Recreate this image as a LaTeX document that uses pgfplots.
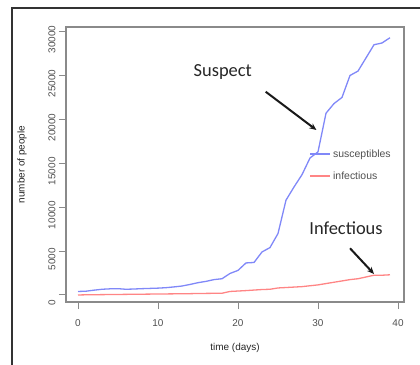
\documentclass[border=0pt]{standalone}
\usepackage{fontspec}
\setmainfont{Liberation Sans}
\newfontfamily\callig{Carlito}
\usepackage{pgfplots}
\pgfplotsset{compat=1.18}
\usetikzlibrary{arrows.meta}
\definecolor{sblue}{HTML}{8088F8}
\definecolor{ired}{HTML}{FF8585}
\definecolor{boxgray}{HTML}{8A8A8A}
\definecolor{txtgray}{HTML}{505050}
\begin{document}
\begin{tikzpicture}
\path[use as bounding box] (0bp,0bp) rectangle (420bp,-365bp);
\draw[line width=1.5bp, black!80] (12bp,-366bp) -- (12bp,-8bp) -- (421bp,-8bp);
\draw[line width=1.4bp, boxgray] (66bp,-302bp) -- (66bp,-27bp) -- (404bp,-27bp) -- (404bp,-302bp) -- cycle;
\begin{axis}[
  at={(66bp,-302bp)}, anchor=south west,
  scale only axis, width=338bp, height=275bp,
  xmin=-1.5, xmax=40.75, ymin=-800, ymax=30520,
  axis lines=box,
  axis line style={draw=boxgray, line width=1.4bp},
  xtick={0,10,20,30,40}, ytick={0,5000,10000,15000,20000,25000,30000},
  xtick pos=bottom, ytick pos=left,
  tick align=outside, major tick length=7bp,
  tick style={boxgray, line width=1bp},
  scaled ticks=false,
  /pgf/number format/assume math mode=true,
  /pgf/number format/1000 sep={},
  ticklabel style={font=\fontsize{10}{12}\selectfont, text=txtgray},
  xticklabel style={yshift=-7bp},
  yticklabel style={rotate=90, anchor=south, xshift=-8bp},
  xlabel={time (days)}, ylabel={number of people},
  label style={font=\fontsize{10}{12}\selectfont, text=black!85},
  xlabel style={at={(axis description cs:0.5,-0.167)}, anchor=center},
  ylabel style={at={(axis description cs:-0.130,0.5)}, anchor=center},
  legend style={at={(0.712,0.570)}, anchor=north west, draw=none, fill=none,
    font=\fontsize{10.5}{12}\selectfont, text=txtgray, row sep=9bp,
    /tikz/every even column/.append style={column sep=10bp}},
  legend cell align=left,
  legend image code/.code={\draw[#1] (0bp,0bp) -- (20bp,0bp);},
]
\addplot[sblue, line width=1.3bp] coordinates {
(0,400) (1,430) (2,550) (3,650) (4,700) (5,720) (6,650) (7,680) (8,720) (9,750)
(10,780) (11,830) (12,920) (13,1020) (14,1200) (15,1400) (16,1550) (17,1750) (18,1850) (19,2450)
(20,2800) (21,3650) (22,3700) (23,4900) (24,5400) (25,7000) (26,10800) (27,12300) (28,13700) (29,15600)
(30,16300) (31,20700) (32,21800) (33,22500) (34,25000) (35,25500) (36,27000) (37,28500) (38,28700) (39,29300)
};
\addlegendentry{susceptibles}
\addplot[ired, line width=1.3bp] coordinates {
(0,0) (1,20) (2,30) (3,40) (4,50) (5,60) (6,70) (7,80) (8,90) (9,100)
(10,110) (11,120) (12,130) (13,140) (14,150) (15,170) (16,180) (17,190) (18,200) (19,400)
(20,450) (21,500) (22,560) (23,620) (24,650) (25,800) (26,850) (27,900) (28,950) (29,1050)
(30,1150) (31,1300) (32,1450) (33,1600) (34,1750) (35,1850) (36,2050) (37,2250) (38,2250) (39,2300)
};
\addlegendentry{infectious}
\node[font=\callig\fontsize{18.5}{20}\selectfont, text=black!85] at (axis cs:18.1,25400) {Suspect};
\draw[-{Stealth[length=7bp,width=6bp]}, line width=2bp, black!90] (axis cs:23.46,23150) -- (axis cs:29.8,18790);
\node[font=\callig\fontsize{18.5}{20}\selectfont, text=black!85] at (axis cs:33.5,7630) {Infectious};
\draw[-{Stealth[length=7bp,width=6bp]}, line width=2bp, black!90] (axis cs:34,5320) -- (axis cs:37,2390);
\end{axis}
\end{tikzpicture}
\end{document}
